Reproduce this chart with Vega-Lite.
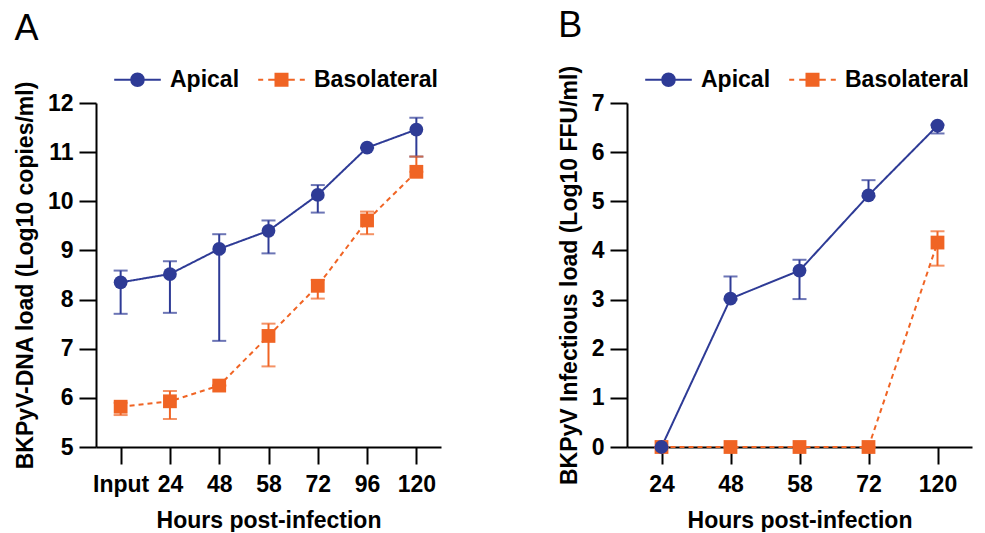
{
  "$schema": "https://vega.github.io/schema/vega-lite/v6.json",
  "background": "white",
  "padding": {"left": 14, "top": 8, "right": 5, "bottom": 0},
  "spacing": 117,
  "config": {
    "view": {"stroke": null},
    "font": "Liberation Sans",
    "axis": {
      "grid": false,
      "domainColor": "black",
      "domainWidth": 2,
      "tickColor": "black",
      "tickWidth": 2,
      "tickSize": 17,
      "labelFont": "Liberation Sans",
      "labelFontSize": 23,
      "labelFontWeight": "bold",
      "labelColor": "black",
      "labelPadding": 6,
      "titleFont": "Liberation Sans",
      "titleFontSize": 23,
      "titleFontWeight": "bold",
      "titleColor": "black",
      "titlePadding": 10
    },
    "axisX": {"labelPadding": 9, "titlePadding": 13},
    "legend": {"title": null, "padding": 0, "direction": "horizontal", "symbolSize": 400, "symbolStrokeWidth": 2, "symbolOpacity": 1, "labelOffset": 21, "labelFontSize": 23, "labelFontWeight": "bold", "labelFont": "Liberation Sans", "labelColor": "black", "columnPadding": 14}
  },
  "resolve": {
    "scale": {"fill": "independent", "stroke": "independent", "shape": "independent"},
    "legend": {"fill": "independent", "stroke": "independent", "shape": "independent"}
  },
  "hconcat": [
    {
      "width": 345,
      "height": 344,
      "title": {"text": "A", "anchor": "start", "frame": "bounds", "fontSize": 36, "fontWeight": "normal", "font": "Liberation Sans", "color": "black", "offset": 20},
      "data": {"values": [
        {"series": "Basolateral", "time": "Input", "val": 5.82, "lo": 5.65, "hi": 5.90},
        {"series": "Basolateral", "time": "24", "val": 5.93, "lo": 5.57, "hi": 6.14},
        {"series": "Basolateral", "time": "48", "val": 6.25, "lo": 6.25, "hi": 6.25},
        {"series": "Basolateral", "time": "58", "val": 7.26, "lo": 6.64, "hi": 7.51},
        {"series": "Basolateral", "time": "72", "val": 8.28, "lo": 8.02, "hi": 8.40},
        {"series": "Basolateral", "time": "96", "val": 9.61, "lo": 9.33, "hi": 9.79},
        {"series": "Basolateral", "time": "120", "val": 10.60, "lo": 10.60, "hi": 10.91},
        {"series": "Apical", "time": "Input", "val": 8.35, "lo": 7.71, "hi": 8.59},
        {"series": "Apical", "time": "24", "val": 8.52, "lo": 7.73, "hi": 8.78},
        {"series": "Apical", "time": "48", "val": 9.03, "lo": 7.16, "hi": 9.33},
        {"series": "Apical", "time": "58", "val": 9.40, "lo": 8.94, "hi": 9.61},
        {"series": "Apical", "time": "72", "val": 10.13, "lo": 9.77, "hi": 10.33},
        {"series": "Apical", "time": "96", "val": 11.09, "lo": 11.09, "hi": 11.09},
        {"series": "Apical", "time": "120", "val": 11.46, "lo": 10.91, "hi": 11.70}
      ]},
      "encoding": {
        "x": {"field": "time", "type": "ordinal", "sort": ["Input", "24", "48", "58", "72", "96", "120"],
              "scale": {"type": "point", "padding": 0.5},
              "axis": {"title": "Hours post-infection", "labelAngle": 0}},
        "color": {"condition": {"test": "datum.series === 'Apical'", "value": "#2E3B96"}, "value": "#F06424"}
      },
      "layer": [
        {"mark": {"type": "line", "strokeWidth": 2},
         "encoding": {
           "y": {"field": "val", "type": "quantitative", "scale": {"domain": [5, 12], "nice": false, "zero": false},
                 "axis": {"title": "BKPyV-DNA load (Log10 copies/ml)", "values": [5, 6, 7, 8, 9, 10, 11, 12]}},
           "detail": {"field": "series", "type": "nominal"},
           "strokeDash": {"condition": {"test": "datum.series === 'Apical'", "value": [1, 0]}, "value": [5, 4]}
         }},
        {"mark": {"type": "rule", "strokeWidth": 2},
         "encoding": {"y": {"field": "lo", "type": "quantitative"}, "y2": {"field": "hi"}}},
        {"mark": {"type": "tick", "thickness": 2, "size": 14},
         "encoding": {"y": {"field": "lo", "type": "quantitative"}}},
        {"mark": {"type": "tick", "thickness": 2, "size": 14},
         "encoding": {"y": {"field": "hi", "type": "quantitative"}}},
        {"mark": {"type": "point", "filled": true, "size": 190, "opacity": 1},
         "encoding": {
           "y": {"field": "val", "type": "quantitative"},
           "shape": {"condition": {"test": "datum.series === 'Apical'", "value": "circle"}, "value": "square"}
         }},
        {"mark": {"type": "point", "opacity": 0, "strokeWidth": 2},
         "encoding": {
           "y": {"field": "val", "type": "quantitative"},
           "color": null,
           "fill": {"field": "series", "type": "nominal", "scale": {"range": ["#2E3B96", "#F06424"]},
                    "legend": {"orient": "none", "legendX": 30, "legendY": -35}},
           "stroke": {"field": "series", "type": "nominal", "scale": {"range": ["#2E3B96", "#F06424"]},
                    "legend": {"orient": "none", "legendX": 30, "legendY": -35}},
           "shape": {"field": "series", "type": "nominal",
                     "scale": {"range": [
                       "M-2.33,0L2.33,0M-0.63,0A0.63,0.63,0,1,1,0.63,0A0.63,0.63,0,1,1,-0.63,0Z",
                       "M-2.33,0L-1.83,0M-1.33,0L-0.7,0M0.7,0L1.33,0M1.83,0L2.33,0M-0.6,-0.6L0.6,-0.6L0.6,0.6L-0.6,0.6Z"
                     ]},
                     "legend": {"orient": "none", "legendX": 30, "legendY": -35}}
         }}
      ]
    },
    {
      "width": 345,
      "height": 344,
      "title": {"text": "B", "anchor": "start", "frame": "bounds", "fontSize": 36, "fontWeight": "normal", "font": "Liberation Sans", "color": "black", "offset": 20},
      "data": {"values": [
        {"series": "Basolateral", "time": "24", "val": 0, "lo": 0, "hi": 0},
        {"series": "Basolateral", "time": "48", "val": 0, "lo": 0, "hi": 0},
        {"series": "Basolateral", "time": "58", "val": 0, "lo": 0, "hi": 0},
        {"series": "Basolateral", "time": "72", "val": 0, "lo": 0, "hi": 0},
        {"series": "Basolateral", "time": "120", "val": 4.16, "lo": 3.69, "hi": 4.39},
        {"series": "Apical", "time": "24", "val": 0, "lo": 0, "hi": 0},
        {"series": "Apical", "time": "48", "val": 3.02, "lo": 3.0, "hi": 3.47},
        {"series": "Apical", "time": "58", "val": 3.59, "lo": 3.01, "hi": 3.81},
        {"series": "Apical", "time": "72", "val": 5.12, "lo": 5.1, "hi": 5.43},
        {"series": "Apical", "time": "120", "val": 6.54, "lo": 6.38, "hi": 6.56}
      ]},
      "encoding": {
        "x": {"field": "time", "type": "ordinal", "sort": ["24", "48", "58", "72", "120"],
              "scale": {"type": "point", "padding": 0.5},
              "axis": {"title": "Hours post-infection", "labelAngle": 0}},
        "color": {"condition": {"test": "datum.series === 'Apical'", "value": "#2E3B96"}, "value": "#F06424"}
      },
      "layer": [
        {"mark": {"type": "line", "strokeWidth": 2},
         "encoding": {
           "y": {"field": "val", "type": "quantitative", "scale": {"domain": [0, 7], "nice": false},
                 "axis": {"title": "BKPyV Infectious load (Log10 FFU/ml)", "values": [0, 1, 2, 3, 4, 5, 6, 7]}},
           "detail": {"field": "series", "type": "nominal"},
           "strokeDash": {"condition": {"test": "datum.series === 'Apical'", "value": [1, 0]}, "value": [5, 4]}
         }},
        {"mark": {"type": "rule", "strokeWidth": 2},
         "encoding": {"y": {"field": "lo", "type": "quantitative"}, "y2": {"field": "hi"}}},
        {"mark": {"type": "tick", "thickness": 2, "size": 14},
         "encoding": {"y": {"field": "lo", "type": "quantitative"}}},
        {"mark": {"type": "tick", "thickness": 2, "size": 14},
         "encoding": {"y": {"field": "hi", "type": "quantitative"}}},
        {"mark": {"type": "point", "filled": true, "size": 190, "opacity": 1},
         "encoding": {
           "y": {"field": "val", "type": "quantitative"},
           "shape": {"condition": {"test": "datum.series === 'Apical'", "value": "circle"}, "value": "square"}
         }},
        {"mark": {"type": "point", "opacity": 0, "strokeWidth": 2},
         "encoding": {
           "y": {"field": "val", "type": "quantitative"},
           "color": null,
           "fill": {"field": "series", "type": "nominal", "scale": {"range": ["#2E3B96", "#F06424"]},
                    "legend": {"orient": "none", "legendX": 30, "legendY": -35}},
           "stroke": {"field": "series", "type": "nominal", "scale": {"range": ["#2E3B96", "#F06424"]},
                    "legend": {"orient": "none", "legendX": 30, "legendY": -35}},
           "shape": {"field": "series", "type": "nominal",
                     "scale": {"range": [
                       "M-2.33,0L2.33,0M-0.63,0A0.63,0.63,0,1,1,0.63,0A0.63,0.63,0,1,1,-0.63,0Z",
                       "M-2.33,0L-1.83,0M-1.33,0L-0.7,0M0.7,0L1.33,0M1.83,0L2.33,0M-0.6,-0.6L0.6,-0.6L0.6,0.6L-0.6,0.6Z"
                     ]},
                     "legend": {"orient": "none", "legendX": 30, "legendY": -35}}
         }}
      ]
    }
  ]
}
